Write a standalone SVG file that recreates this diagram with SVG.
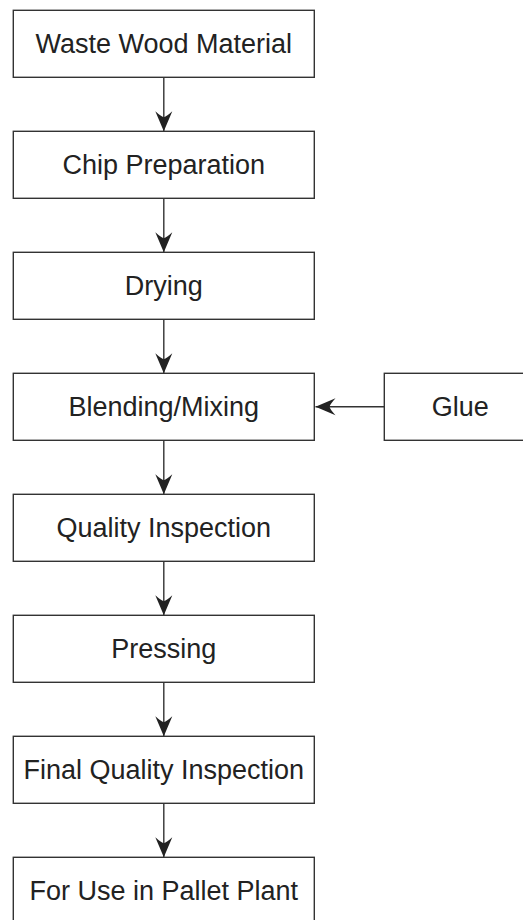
<svg xmlns="http://www.w3.org/2000/svg" width="523" height="920" viewBox="0 0 523 920">
<style>
.box{fill:#fff;stroke:#333;stroke-width:1.4}
.lbl{font-family:"Liberation Sans",Arial,sans-serif;font-size:27px;fill:#222;text-anchor:middle;dominant-baseline:central}
.con{stroke:#333;stroke-width:1.4;fill:none}
</style>
<defs>
<marker id="ah" markerUnits="userSpaceOnUse" markerWidth="22" markerHeight="20" viewBox="-21 -10 22 20" refX="0" refY="0" orient="auto">
<path d="M0,0 L-20,-8.5 Q-15,-3 -14,0 Q-15,3 -20,8.5 Z" fill="#222"/>
</marker>
</defs>
<rect width="523" height="920" fill="#fff"/>
<g id="connectors">
<line class="con" x1="163.8" y1="77.3" x2="163.8" y2="131.3" marker-end="url(#ah)"/>
<line class="con" x1="163.8" y1="198.3" x2="163.8" y2="252.3" marker-end="url(#ah)"/>
<line class="con" x1="163.8" y1="319.3" x2="163.8" y2="373.3" marker-end="url(#ah)"/>
<line class="con" x1="163.8" y1="440.3" x2="163.8" y2="494.3" marker-end="url(#ah)"/>
<line class="con" x1="163.8" y1="561.3" x2="163.8" y2="615.3" marker-end="url(#ah)"/>
<line class="con" x1="163.8" y1="682.3" x2="163.8" y2="736.3" marker-end="url(#ah)"/>
<line class="con" x1="163.8" y1="803.3" x2="163.8" y2="857.3" marker-end="url(#ah)"/>
<line class="con" x1="384.3" y1="406.8" x2="315.5" y2="406.8" marker-end="url(#ah)"/>
</g>
<g id="n1"><rect class="box" x="13.3" y="10.3" width="301" height="67"/><text class="lbl" x="163.8" y="43.8">Waste Wood Material</text></g>
<g id="n2"><rect class="box" x="13.3" y="131.3" width="301" height="67"/><text class="lbl" x="163.8" y="164.8">Chip Preparation</text></g>
<g id="n3"><rect class="box" x="13.3" y="252.3" width="301" height="67"/><text class="lbl" x="163.8" y="285.8">Drying</text></g>
<g id="n4"><rect class="box" x="13.3" y="373.3" width="301" height="67"/><text class="lbl" x="163.8" y="406.8">Blending/Mixing</text></g>
<g id="glue"><rect class="box" x="384.3" y="373.3" width="152" height="67"/><text class="lbl" x="460.3" y="406.8">Glue</text></g>
<g id="n5"><rect class="box" x="13.3" y="494.3" width="301" height="67"/><text class="lbl" x="163.8" y="527.8">Quality Inspection</text></g>
<g id="n6"><rect class="box" x="13.3" y="615.3" width="301" height="67"/><text class="lbl" x="163.8" y="648.8">Pressing</text></g>
<g id="n7"><rect class="box" x="13.3" y="736.3" width="301" height="67"/><text class="lbl" x="163.8" y="769.8">Final Quality Inspection</text></g>
<g id="n8"><rect class="box" x="13.3" y="857.3" width="301" height="67"/><text class="lbl" x="163.8" y="890.8">For Use in Pallet Plant</text></g>
</svg>
